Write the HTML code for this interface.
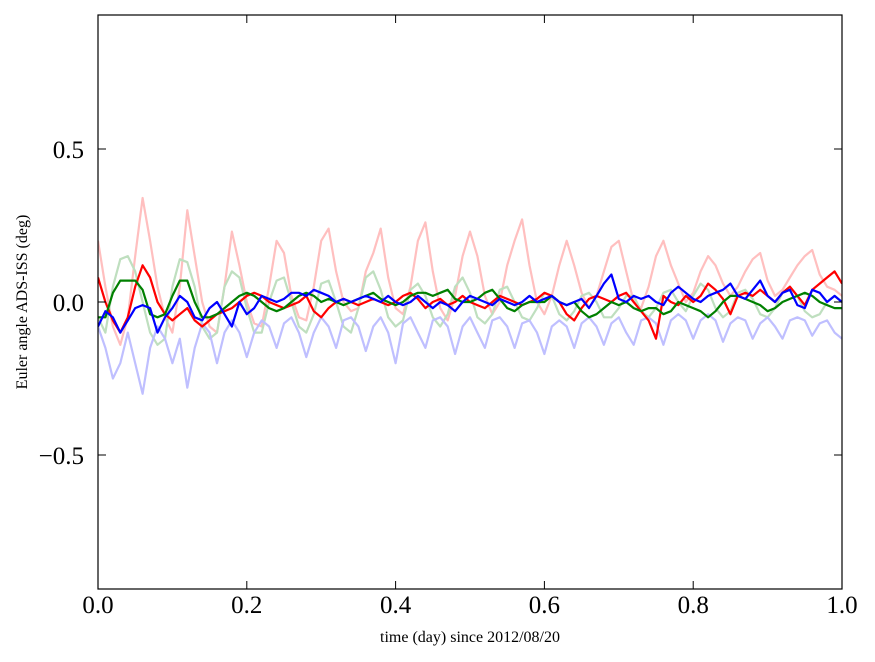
<!DOCTYPE html>
<html><head><meta charset="utf-8"><style>
body{margin:0;background:#fff}
svg{display:block}
text{font-family:"Liberation Serif",serif;fill:#000}
</style></head><body>
<svg id="c" width="875" height="662"></svg>
<script>
const xs = [];
for (let i = 0; i <= 100; i++) xs.push(i / 100);
const xTicks = [0, 0.2, 0.4, 0.6, 0.8, 1.0];
const xTickLabels = ["0.0", "0.2", "0.4", "0.6", "0.8", "1.0"];
const yTicks = [-0.5, 0, 0.5];
const yTickLabels = ["\u22120.5", "0.0", "0.5"];
const pinkVals = [0.20,0.05,-0.08,-0.14,-0.05,0.15,0.34,0.2,0.05,-0.05,-0.1,0.05,0.3,0.15,0.0,-0.08,-0.1,0.05,0.23,0.12,0.0,-0.07,-0.08,0.05,0.2,0.16,0.02,-0.05,-0.06,0.05,0.2,0.24,0.1,0.0,-0.03,-0.02,0.1,0.16,0.24,0.08,-0.02,-0.04,0.05,0.2,0.26,0.1,-0.02,-0.06,0.02,0.15,0.23,0.15,0.02,-0.04,0.0,0.12,0.2,0.27,0.12,0.0,-0.04,0.02,0.12,0.2,0.12,0.03,-0.02,0.02,0.1,0.18,0.2,0.1,0.0,-0.02,0.05,0.15,0.2,0.12,0.06,0.0,0.03,0.1,0.15,0.12,0.06,0.02,0.05,0.1,0.14,0.16,0.07,0.02,0.04,0.08,0.12,0.15,0.17,0.09,0.05,0.04,0.02];
const lgreenVals = [-0.05,-0.1,0.05,0.14,0.15,0.1,0.0,-0.1,-0.14,-0.12,0.05,0.14,0.13,0.05,-0.08,-0.12,-0.1,0.05,0.1,0.08,-0.02,-0.1,-0.1,0.0,0.07,0.08,0.0,-0.08,-0.1,-0.04,0.06,0.07,0.0,-0.08,-0.1,-0.02,0.08,0.1,0.04,-0.05,-0.08,-0.06,0.04,0.06,0.02,-0.05,-0.08,-0.04,0.05,0.08,0.03,-0.05,-0.07,-0.04,0.04,0.05,0.0,-0.05,-0.06,-0.02,0.03,0.02,-0.04,-0.06,-0.03,0.02,0.03,0.0,-0.05,-0.05,-0.02,0.02,0.02,-0.03,-0.05,-0.02,0.03,0.04,0.0,-0.03,0.02,0.06,0.04,-0.02,-0.05,-0.03,0.03,0.04,0.01,-0.04,-0.05,-0.02,0.03,0.05,0.02,-0.03,-0.05,-0.04,0.0,0.02,0.0];
const lblueVals = [-0.08,-0.15,-0.25,-0.2,-0.1,-0.2,-0.3,-0.15,-0.08,-0.12,-0.2,-0.12,-0.28,-0.15,-0.07,-0.1,-0.2,-0.1,-0.06,-0.1,-0.18,-0.1,-0.06,-0.08,-0.15,-0.07,-0.05,-0.1,-0.18,-0.1,-0.05,-0.08,-0.15,-0.06,-0.05,-0.08,-0.16,-0.08,-0.05,-0.1,-0.2,-0.07,-0.05,-0.1,-0.15,-0.06,-0.05,-0.08,-0.17,-0.08,-0.05,-0.1,-0.15,-0.06,-0.05,-0.08,-0.15,-0.07,-0.06,-0.1,-0.17,-0.08,-0.06,-0.08,-0.15,-0.07,-0.05,-0.08,-0.14,-0.07,-0.05,-0.1,-0.14,-0.06,-0.05,-0.07,-0.14,-0.06,-0.04,-0.06,-0.12,-0.06,-0.04,-0.06,-0.13,-0.07,-0.05,-0.06,-0.12,-0.07,-0.05,-0.08,-0.12,-0.06,-0.05,-0.06,-0.11,-0.07,-0.06,-0.1,-0.12];
const redVals = [0.08,0.0,-0.06,-0.1,-0.05,0.05,0.12,0.08,0.0,-0.04,-0.06,-0.04,-0.02,-0.06,-0.08,-0.06,-0.04,-0.03,-0.02,0.0,0.02,0.03,0.02,0.0,-0.01,-0.02,-0.01,0.0,0.02,-0.03,-0.05,-0.02,0.0,0.01,0.0,-0.01,0.0,0.01,0.0,-0.01,0.0,0.02,0.03,0.01,-0.02,0.0,0.01,-0.01,0.0,0.02,0.0,-0.01,-0.02,0.0,0.02,0.01,0.0,-0.01,0.0,0.01,0.03,0.02,0.0,-0.04,-0.06,-0.02,0.01,0.02,0.01,0.0,0.02,0.03,0.0,-0.03,-0.06,-0.12,0.02,0.0,-0.01,0.02,0.0,0.02,0.06,0.04,0.01,-0.04,0.02,0.03,0.02,0.04,0.02,0.0,0.03,0.05,0.02,-0.01,0.04,0.06,0.08,0.1,0.06];
const greenVals = [-0.05,-0.05,0.03,0.07,0.07,0.07,0.04,-0.04,-0.05,-0.04,0.02,0.07,0.07,0.0,-0.05,-0.05,-0.04,-0.02,0.0,0.02,0.03,0.02,0.0,-0.02,-0.03,-0.02,0.0,0.02,0.03,0.02,0.0,0.01,0.0,-0.01,0.0,0.01,0.02,0.03,0.01,0.0,-0.01,0.0,0.02,0.03,0.03,0.02,0.03,0.04,0.01,0.0,0.0,0.01,0.03,0.04,0.01,-0.02,-0.03,-0.01,0.0,0.0,0.0,0.02,0.0,-0.01,0.0,-0.03,-0.05,-0.04,-0.02,0.0,-0.01,0.0,-0.02,-0.03,-0.02,-0.02,-0.04,-0.03,0.0,-0.01,-0.02,-0.03,-0.05,-0.03,0.0,0.02,0.02,0.01,0.0,-0.01,-0.03,-0.02,0.0,0.01,0.02,0.03,0.02,0.0,-0.01,-0.02,-0.02];
const blueVals = [-0.08,-0.03,-0.05,-0.1,-0.06,-0.02,-0.01,-0.02,-0.1,-0.05,-0.02,0.02,0.0,-0.05,-0.06,-0.02,0.0,-0.04,-0.08,0.0,-0.04,-0.02,0.02,0.01,0.0,0.01,0.03,0.03,0.02,0.04,0.03,0.02,0.0,0.01,0.0,0.01,0.02,0.01,0.0,0.02,0.0,-0.01,0.0,0.02,0.0,-0.02,0.0,-0.01,-0.03,0.0,0.02,0.01,0.0,-0.01,0.01,0.0,-0.01,0.0,0.02,0.0,0.01,0.02,0.0,-0.01,0.0,0.01,-0.02,0.02,0.06,0.09,0.01,0.0,0.02,0.01,0.02,0.0,-0.01,0.03,0.05,0.03,0.01,0.0,0.02,0.03,0.04,0.06,0.02,0.01,0.04,0.07,0.02,0.0,0.03,0.04,-0.01,-0.02,0.04,0.03,0.0,0.02,0.0];

const L=98,R=842,T=15,B=589;
const X=v=>L+(R-L)*v;
const Y=v=>302-v*306;
const NS="http://www.w3.org/2000/svg";
const svg=document.getElementById('c');
function mk(tag,attrs,parent){const e=document.createElementNS(NS,tag);for(const k in attrs)e.setAttribute(k,attrs[k]);(parent||svg).appendChild(e);return e;}

const clip=mk('clipPath',{id:'pc'});
mk('rect',{x:L,y:T,width:R-L,height:B-T},clip);
const g=mk('g',{'clip-path':'url(#pc)'});



const series=[
 ['pink-faint-series',pinkVals,'#ffbfbf'],
 ['green-faint-series',lgreenVals,'#bfdfbf'],
 ['blue-faint-series',lblueVals,'#bfbfff'],
 ['red-series',redVals,'#ff0000'],
 ['green-series',greenVals,'#008000'],
 ['blue-series',blueVals,'#0000ff']
];
series.forEach(s=>{
  const d=s[1].map((v,i)=>(i?'L':'M')+X(xs[i]).toFixed(1)+','+Y(v).toFixed(1)).join('');
  const p=mk('path',{d:d,fill:'none',stroke:s[2],'stroke-width':2.2,'stroke-linejoin':'round'},g);
  
  
});

const frame=mk('rect',{x:L,y:T,width:R-L,height:B-T,fill:'none',stroke:'#000','stroke-width':1.2});



xTicks.forEach((t,i)=>{
  const x=X(t);
  mk('line',{x1:x,x2:x,y1:B,y2:B-8,stroke:'#000'});
  mk('line',{x1:x,x2:x,y1:T,y2:T+8,stroke:'#000'});
  const tx=mk('text',{x:x,y:613,'text-anchor':'middle','font-size':25});
  tx.textContent=xTickLabels[i];
  
  
});
yTicks.forEach((t,i)=>{
  const y=Y(t);
  mk('line',{x1:L,x2:L+8,y1:y,y2:y,stroke:'#000'});
  mk('line',{x1:R,x2:R-8,y1:y,y2:y,stroke:'#000'});
  const tx=mk('text',{x:84,y:y+9,'text-anchor':'end','font-size':25});
  tx.textContent=yTickLabels[i];
  
  
});
const xl=mk('text',{x:470,y:642,'text-anchor':'middle','font-size':16});
xl.textContent='time (day) since 2012/08/20';


const yl=mk('text',{x:0,y:0,'text-anchor':'middle','font-size':16,transform:'translate(27,302) rotate(-90)'});
yl.textContent='Euler angle ADS-ISS (deg)';


</script>
</body></html>
